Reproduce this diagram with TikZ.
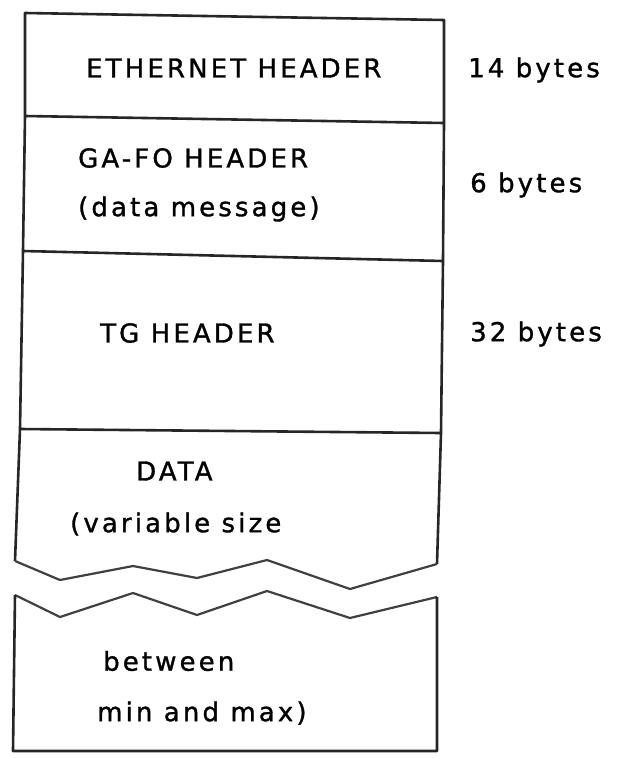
\documentclass[tikz,border=0pt]{standalone}
\usepackage{fontspec}
\newfontfamily\dotfont[LetterSpace=12,FakeBold=1.2]{DejaVu Sans}
\usetikzlibrary{positioning}
\tikzset{
  frame/.style={line width=2.6pt,black!85,line join=round},
  cut/.style={line width=2.2pt,black!75,line join=round},
  lbl/.style={font=\dotfont\fontsize{26}{30}\selectfont,inner sep=0pt,anchor=west},
  size/.style={lbl}
}

\begin{document}
\begin{tikzpicture}[x=1pt,y=-1pt]
\useasboundingbox (0,0) rectangle (617,758);
% corners of the packet
\coordinate (tl) at (25,13);
\coordinate (tr) at (444,20);
\coordinate (e1l) at (25,116);
\coordinate (e1r) at (444,123);
\coordinate (e2l) at (23,251);
\coordinate (e2r) at (443,261);
\coordinate (e3l) at (20,429);
\coordinate (e3r) at (441,433);
\coordinate (ul) at (15,561);
\coordinate (ur) at (437,564);
\coordinate (ll) at (15,595);
\coordinate (lr) at (437,597);
\coordinate (bl) at (13,751);
\coordinate (br) at (437,751);
% upper piece, ends in the break
\draw[frame] (ur)--(e3r)--(e2r)--(e1r)--(tr)--(tl)--(e1l)--(e2l)--(e3l)--(ul);
\draw[frame] (e1l)--(e1r) (e2l)--(e2r) (e3l)--(e3r);
\draw[cut] (ul)--(60,580)--(133,566)--(197,578)--(267,560)--(350,589)--(ur);
% lower piece
\draw[cut] (ll)--(60,617)--(133,593)--(197,615)--(267,591)--(350,618)--(lr);
\draw[frame] (ll)--(bl)--(br)--(lr);
% field names
\node[lbl] (eth) at (86,68) {ETHERNET HEADER};
\node[lbl] (gafo) at (78,158) {GA-FO HEADER};
\node[lbl] (gamsg) at (78,209) {(data message)};
\node[lbl] (tg) at (100,333) {TG HEADER};
\node[lbl] (data) at (136,471) {DATA};
\node[lbl] (var) at (70,524) {(variable size};
\node[lbl] (betw) at (103,661) {between};
\node[lbl] (minmax) at (97,713) {min and max)};
% sizes
\node[size] (s14) at (468,70) {14 bytes};
\node[size] (s6) at (470,185) {6 bytes};
\node[size] (s32) at (470,334) {32 bytes};
\end{tikzpicture}
\end{document}
